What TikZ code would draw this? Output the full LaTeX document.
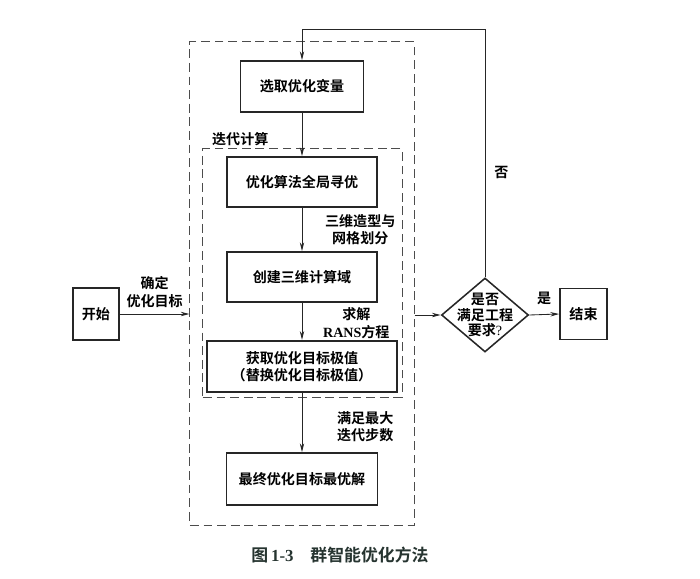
\documentclass[tikz,border=0pt]{standalone}
\usepackage{fontspec}
\setmainfont{Liberation Serif}
\newfontfamily\cjk{Noto Sans CJK SC}[BoldFont={Noto Sans CJK SC Bold}]
\usepackage{xcolor}
\usepackage{tikz}
\usetikzlibrary{shapes,shapes.geometric,arrows.meta,positioning,calc}
\definecolor{captext}{RGB}{38,52,48}

\begin{document}
\begin{tikzpicture}[
    x=0.025cm, y=-0.025cm,
    font=\cjk\bfseries\fontsize{10}{12.5}\selectfont,
    block/.style={rectangle, draw=black!85, line width=1.2pt, align=center, inner sep=2pt},
    heavy/.style={rectangle, draw=black!85, line width=1.6pt, align=center, inner sep=2pt},
    dashbox/.style={rectangle, draw=black!70, line width=0.7pt, dash pattern=on 0.22cm off 0.12cm},
    decision/.style={diamond, draw=black!85, line width=1.1pt, inner sep=0pt, minimum width=2.175cm, minimum height=1.85cm},
    arrow/.style={-{Stealth[length=2.2mm, width=1.1mm]}, line width=0.6pt, draw=black!85},
    note/.style={align=center, font=\cjk\bfseries\fontsize{10}{12.5}\selectfont}
]
    \useasboundingbox (0,0) rectangle (700,579);

    % Dashed frames
    \node[dashbox, minimum width=5.6cm, minimum height=12.075cm] (outer) at (302,283.5) {};
    \node[dashbox, minimum width=4.975cm, minimum height=6.2cm] (inner) at (302.5,273) {};
    \node[note, anchor=south west, inner sep=1pt] (iterlbl) at ($(inner.north west)+(8,-1)$) {迭代计算};

    % Blocks
    \node[block, minimum width=3.075cm, minimum height=1.275cm] (sel) at (302,86.5) {选取优化变量};
    \node[block, minimum width=3.75cm, minimum height=1.25cm] (opt) at (302,182) {优化算法全局寻优};
    \node[block, minimum width=3.75cm, minimum height=1.25cm] (dom) at (302,277) {创建三维计算域};
    \node[heavy, minimum width=4.75cm, minimum height=1.275cm] (obj) at (302,366.5) {获取优化目标极值\\（替换优化目标极值）};
    \node[block, minimum width=3.775cm, minimum height=1.3cm] (fin) at (302,479) {最终优化目标最优解};
    \node[block, minimum width=1.15cm, minimum height=1.3cm] (start) at (96,314) {开始};
    \node[block, minimum width=1.175cm, minimum height=1.275cm] (stop) at (583.5,314) {结束};
    \node[decision, label={[note, font=\cjk\bfseries\fontsize{10}{11}\selectfont]center:是否\\满足工程\\要求{\rmfamily\mdseries ?}}] (dec) at (485,315) {};
    \coordinate (loop) at (302,29);

    % Main flow
    \draw[arrow] (start.east) -- (start.east -| outer.west)
        node[note, midway, above=1pt] {确定\\优化目标};
    \draw[arrow] (sel) -- (opt);
    \draw[arrow] (opt) -- (dom)
        node[note, midway, right=0.45cm] {三维造型与\\网格划分};
    \draw[arrow] (dom) -- (obj)
        node[note, midway, right=0.4cm, yshift=-0.05cm] {求解\\{\rmfamily RANS}方程};
    \draw[arrow] (obj) -- (fin)
        node[note, midway, right=0.75cm, yshift=-0.1cm] {满足最大\\迭代步数};

    % Check and feedback
    \draw[arrow] (dec.west -| outer.east) -- (dec.west);
    \draw[arrow] (dec.east) -- (stop.west)
        node[note, midway, above=3pt] {是};
    \draw[arrow] (dec.north) |- node[note, pos=0.21, right=3pt] {否} (loop) -- (sel.north);

    % Caption
    \node[font=\cjk\bfseries\fontsize{12}{14}\selectfont, text=captext] (cap) at (340,555) {图\,{\rmfamily 1-3}\quad 群智能优化方法};
\end{tikzpicture}
\end{document}
